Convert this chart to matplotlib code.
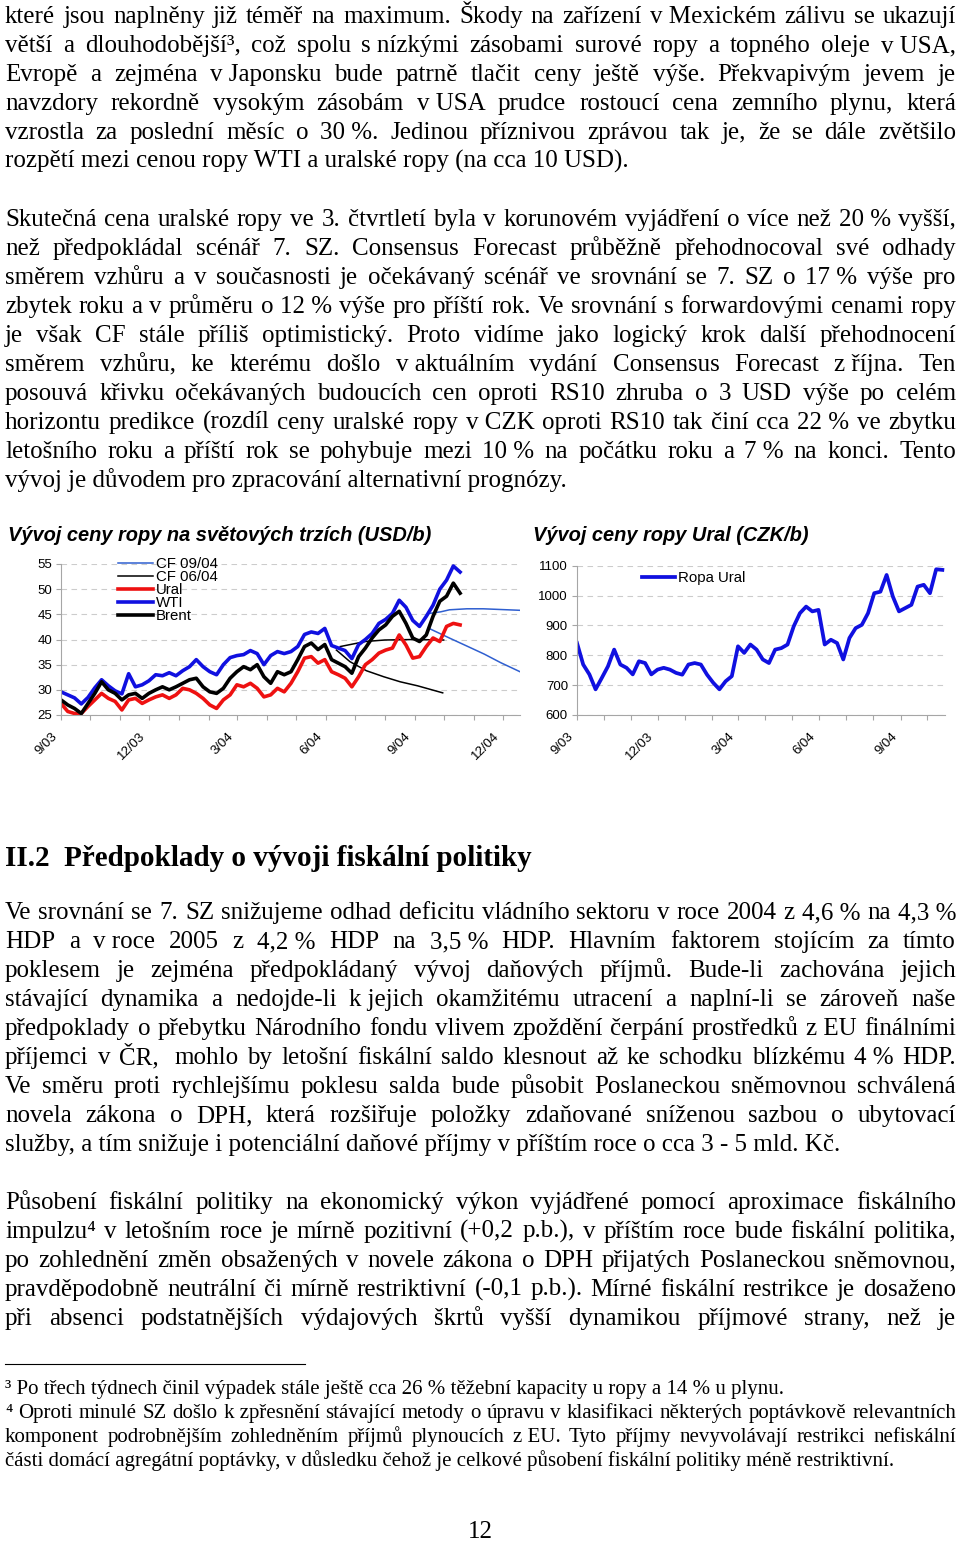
import pandas as pd
import matplotlib
matplotlib.use("Agg")
import matplotlib.pyplot as plt
import matplotlib.dates as mdates
from matplotlib.lines import Line2D
from matplotlib.transforms import ScaledTranslation

W, H = 960, 1541
SERIF = ['Liberation Serif', 'DejaVu Serif']
SANS = ['Liberation Sans', 'DejaVu Sans']
plt.rcParams['font.family'] = SANS

# ---- data (weekly) ----
start = '2003-09-01'
wti = [29.6, 29.0, 28.4, 27.2, 28.5, 30.4, 32.0, 30.8, 29.8, 29.2,
       33.2, 30.6, 31.0, 31.8, 33.0, 32.8, 33.4, 32.8, 33.8, 34.6,
       36.0, 34.6, 33.6, 33.0, 35.0, 36.4, 36.8, 37.0, 37.8, 37.2,
       35.0, 36.8, 37.6, 37.2, 37.6, 38.6, 41.0, 41.5, 41.2, 42.2,
       38.8, 38.3, 37.8, 36.2, 39.0, 40.0, 41.2, 43.2, 44.0, 45.2,
       47.8, 46.4, 43.8, 42.6, 44.6, 46.8, 50.0, 51.8, 54.6, 53.4]
brent = [28.0, 27.0, 26.3, 25.3, 27.3, 29.3, 31.6, 30.0, 29.3, 28.0,
         29.0, 29.3, 28.3, 29.3, 30.0, 30.6, 30.0, 30.6, 31.3, 32.0,
         32.3, 30.6, 29.6, 29.3, 30.3, 32.3, 33.6, 34.6, 34.0, 35.0,
         32.6, 31.3, 33.6, 33.0, 33.6, 36.0, 38.6, 39.3, 38.0, 39.0,
         36.0, 35.3, 34.6, 33.3, 36.6, 38.3, 40.3, 41.9, 42.9, 44.6,
         45.6, 43.2, 40.3, 39.6, 40.9, 44.6, 47.6, 48.6, 51.2, 49.2]
ural = [27.3, 25.7, 25.3, 25.3, 26.7, 28.0, 29.3, 28.3, 27.7, 26.0,
        28.0, 28.3, 27.3, 28.0, 28.6, 29.0, 28.3, 29.0, 30.3, 30.0,
        29.3, 28.3, 27.0, 26.3, 28.0, 29.0, 31.0, 30.6, 31.3, 30.3,
        28.6, 29.0, 30.3, 29.6, 31.3, 33.6, 36.3, 36.6, 35.3, 36.0,
        33.6, 33.0, 32.3, 30.6, 32.6, 35.0, 36.0, 37.3, 37.9, 38.3,
        40.9, 38.9, 36.3, 36.6, 38.6, 40.3, 39.6, 42.6, 43.2, 42.9]
ural_czk = [841, 769, 736, 686, 724, 763, 819, 769, 758, 736,
            780, 774, 736, 752, 758, 752, 741, 735, 769, 774,
            769, 735, 708, 686, 713, 730, 830, 808, 836, 819,
            786, 774, 819, 824, 836, 897, 941, 963, 947, 952,
            836, 852, 841, 786, 858, 891, 902, 941, 1008, 1013,
            1069, 997, 947, 958, 969, 1030, 1036, 1008, 1088, 1086]

cf06_dates_a = ['2004-06-16', '2004-07-12', '2004-08-01', '2004-09-01', '2004-10-01']
cf06_a = [38.6, 39.6, 39.9, 40.0, 39.9]
cf06_dates_b = ['2004-06-12', '2004-06-26', '2004-07-13', '2004-07-31', '2004-08-17', '2004-09-04', '2004-09-30']
cf06_b = [37.9, 35.6, 33.8, 32.6, 31.6, 30.8, 29.4]
cf09_dates_a = ['2004-09-17', '2004-09-28', '2004-10-07', '2004-10-25', '2004-11-11', '2004-12-19']
cf09_a = [45.2, 45.5, 45.9, 46.1, 46.1, 45.8]
cf09_dates_b = ['2004-09-17', '2004-10-08', '2004-10-25', '2004-11-12', '2004-11-29', '2004-12-19']
cf09_b = [42.1, 40.2, 38.7, 37.1, 35.4, 33.6]

# ---- page text ----
para1 = ["které jsou naplněny již téměř na maximum. Škody na zařízení v\u00a0Mexickém zálivu se ukazují",
         "větší a dlouhodobější³, což spolu s\u00a0nízkými zásobami surové ropy a topného oleje v\u00a0USA,",
         "Evropě a zejména v\u00a0Japonsku bude patrně tlačit ceny ještě výše. Překvapivým jevem je",
         "navzdory rekordně vysokým zásobám v\u00a0USA prudce rostoucí cena zemního plynu, která",
         "vzrostla za poslední měsíc o 30\u00a0%. Jedinou příznivou zprávou tak je, že se dále zvětšilo",
         "rozpětí mezi cenou ropy WTI a uralské ropy (na cca 10 USD)."]
para2 = ["Skutečná cena uralské ropy ve 3. čtvrtletí byla v korunovém vyjádření o více než 20\u00a0% vyšší,",
         "než předpokládal scénář 7. SZ. Consensus Forecast průběžně přehodnocoval své odhady",
         "směrem vzhůru a v současnosti je očekávaný scénář ve srovnání se 7. SZ o 17\u00a0% výše pro",
         "zbytek roku a v průměru o 12\u00a0% výše pro příští rok. Ve srovnání s forwardovými cenami ropy",
         "je však CF stále příliš optimistický. Proto vidíme jako logický krok další přehodnocení",
         "směrem vzhůru, ke kterému došlo v\u00a0aktuálním vydání Consensus Forecast z\u00a0října. Ten",
         "posouvá křivku očekávaných budoucích cen oproti RS10 zhruba o 3 USD výše po celém",
         "horizontu predikce (rozdíl ceny uralské ropy v\u00a0CZK oproti RS10 tak činí cca 22\u00a0% ve zbytku",
         "letošního roku a příští rok se pohybuje mezi 10\u00a0% na počátku roku a 7\u00a0% na konci. Tento",
         "vývoj je důvodem pro zpracování alternativní prognózy."]
heading = "II.2\u00a0\u00a0Předpoklady o vývoji fiskální politiky"
para3 = ["Ve srovnání se 7. SZ snižujeme odhad deficitu vládního sektoru v roce 2004 z 4,6\u00a0% na 4,3\u00a0%",
         "HDP a v\u00a0roce 2005 z 4,2\u00a0% HDP na 3,5\u00a0% HDP. Hlavním faktorem stojícím za tímto",
         "poklesem je zejména předpokládaný vývoj daňových příjmů. Bude-li zachována jejich",
         "stávající dynamika a nedojde-li k\u00a0jejich okamžitému utracení a naplní-li se zároveň naše",
         "předpoklady o přebytku Národního fondu vlivem zpoždění čerpání prostředků z\u00a0EU finálními",
         "příjemci v ČR,\u00a0 mohlo by letošní fiskální saldo klesnout až ke schodku blízkému 4\u00a0% HDP.",
         "Ve směru proti rychlejšímu poklesu salda bude působit Poslaneckou sněmovnou schválená",
         "novela zákona o DPH, která rozšiřuje položky zdaňované sníženou sazbou o ubytovací",
         "služby, a tím snižuje i potenciální daňové příjmy v příštím roce o cca 3 - 5 mld. Kč."]
para4 = ["Působení fiskální politiky na ekonomický výkon vyjádřené pomocí aproximace fiskálního",
         "impulzu⁴ v letošním roce je mírně pozitivní (+0,2 p.b.), v příštím roce bude fiskální politika,",
         "po zohlednění změn obsažených v novele zákona o DPH přijatých Poslaneckou sněmovnou,",
         "pravděpodobně neutrální či mírně restriktivní (-0,1 p.b.). Mírné fiskální restrikce je dosaženo",
         "při absenci podstatnějších výdajových škrtů vyšší dynamikou příjmové strany, než je"]
notes = ["³ Po třech týdnech činil výpadek stále ještě cca 26\u00a0% těžební kapacity u ropy a 14\u00a0% u plynu.",
         "⁴ Oproti minulé SZ došlo k\u00a0zpřesnění stávající metody o úpravu v klasifikaci některých poptávkově relevantních",
         "komponent podrobnějším zohledněním příjmů plynoucích z\u00a0EU. Tyto příjmy nevyvolávají restrikci nefiskální",
         "části domácí agregátní poptávky, v důsledku čehož je celkové působení fiskální politiky méně restriktivní."]

fig = plt.figure(figsize=(W / 100, H / 100), dpi=100)
renderer = fig.canvas.get_renderer()


def fx(x):
    return x / W


def fy(y):
    return 1 - y / H


def put_line(s, y, size, justify=True, x0=5, x1=956, weight='normal'):
    if not justify:
        fig.text(fx(x0), fy(y), s, fontsize=size, family=SERIF, weight=weight, va='baseline')
        return
    words = [w for w in s.split(' ') if w]
    arts = [fig.text(0, fy(y), w, fontsize=size, family=SERIF, weight=weight, va='baseline') for w in words]
    widths = [a.get_window_extent(renderer).width for a in arts]
    gap = (x1 - x0 - sum(widths)) / (len(words) - 1)
    x = x0
    for a, w in zip(arts, widths):
        a.set_x(fx(x))
        x += w + gap


def put_para(lines, y0, size, step, last_justify=False):
    for i, s in enumerate(lines):
        last = i == len(lines) - 1
        put_line(s, y0 + i * step, size, justify=(not last) or last_justify)


put_para(para1, 23, 18, 29)
put_para(para2, 226, 18, 29)
put_line(heading, 866, 21, justify=False, weight='bold')
put_para(para3, 919, 18, 29)
put_para(para4, 1209, 18, 29, last_justify=True)

put_line(notes[0], 1394, 15, justify=False)
put_line(notes[1], 1418, 15)
put_line(notes[2], 1442, 15)
put_line(notes[3], 1466, 15, justify=False)
fig.add_artist(Line2D([fx(5), fx(305)], [fy(1364), fy(1364)], color='black', lw=0.8))
fig.text(0.5, fy(1538), "12", fontsize=18, family=SERIF, ha='center', va='baseline')

# ---- charts ----
fig.text(fx(8), fy(541), "Vývoj ceny ropy na světových trzích (USD/b)",
         fontsize=14.4, weight='bold', style='italic')
fig.text(fx(533), fy(541), "Vývoj ceny ropy Ural (CZK/b)",
         fontsize=14.4, weight='bold', style='italic')

weeks = pd.date_range(start, periods=len(wti), freq='7D')
weeks_czk = pd.date_range(start, periods=len(ural_czk), freq='7D')


def style(ax, ylim, yticks, xend):
    ax.set_xlim(pd.Timestamp(start), pd.Timestamp(xend))
    ax.set_ylim(*ylim)
    ax.set_yticks(yticks)
    ax.xaxis.set_major_locator(mdates.MonthLocator())
    ax.xaxis.set_major_formatter(plt.NullFormatter())
    for s in ['top', 'right']:
        ax.spines[s].set_visible(False)
    for s in ['left', 'bottom']:
        ax.spines[s].set_color('#a6a6a6')
        ax.spines[s].set_linewidth(0.8)
    ax.grid(axis='y', color='#cccccc', linestyle=(0, (5, 4)), lw=0.8)
    ax.set_axisbelow(True)
    ax.tick_params(colors='#a6a6a6', labelcolor='black', labelsize=9.5, length=3.5, width=0.8)
    ax.tick_params(axis='y', pad=3)
    # quarterly date labels, rotated like the original
    trans = ax.get_xaxis_transform() + ScaledTranslation(-0.10, -0.15, fig.dpi_scale_trans)
    for d in pd.date_range(start, xend, freq='3MS'):
        ax.text(d, 0, f"{d.month}/{d.year % 100:02d}", transform=trans, rotation=45,
                ha='right', va='top', rotation_mode='anchor', fontsize=9.5)


axL = fig.add_axes([fx(61), fy(715), (520 - 61) / W, (715 - 564) / H])
h1, = axL.plot(pd.to_datetime(cf09_dates_a), cf09_a, color='#2f5fd0', lw=1.1, label='CF 09/04')
axL.plot(pd.to_datetime(cf09_dates_b), cf09_b, color='#2f5fd0', lw=1.1)
h2, = axL.plot(pd.to_datetime(cf06_dates_a), cf06_a, color='black', lw=1.1, label='CF 06/04')
axL.plot(pd.to_datetime(cf06_dates_b), cf06_b, color='black', lw=1.1)
h3, = axL.plot(weeks, ural, color='#ee1111', lw=2.6, label='Ural')
h4, = axL.plot(weeks, wti, color='#1010e0', lw=2.6, label='WTI')
h5, = axL.plot(weeks, brent, color='black', lw=2.6, label='Brent')
style(axL, (25, 55), range(25, 56, 5), '2004-12-19')
axL.legend(handles=[h1, h2, h3, h4, h5], loc='upper left', frameon=False,
           bbox_to_anchor=(fx(118), fy(557)), bbox_transform=fig.transFigure,
           borderpad=0, borderaxespad=0, handlelength=2.3, handletextpad=0.2,
           labelspacing=-0.06, fontsize=10.8)

axR = fig.add_axes([fx(577), fy(715), (945 - 577) / W, (715 - 565.7) / H])
hr, = axR.plot(weeks_czk, ural_czk, color='#1010e0', lw=2.7, label='Ropa Ural')
style(axR, (600, 1100), range(600, 1101, 100), '2004-10-21')
axR.legend(handles=[hr], loc='upper left', frameon=False,
           bbox_to_anchor=(fx(642), fy(571)), bbox_transform=fig.transFigure,
           borderpad=0, borderaxespad=0, handlelength=2.2, handletextpad=0.2,
           fontsize=10.8)

fig.savefig("out.png", dpi=100)
